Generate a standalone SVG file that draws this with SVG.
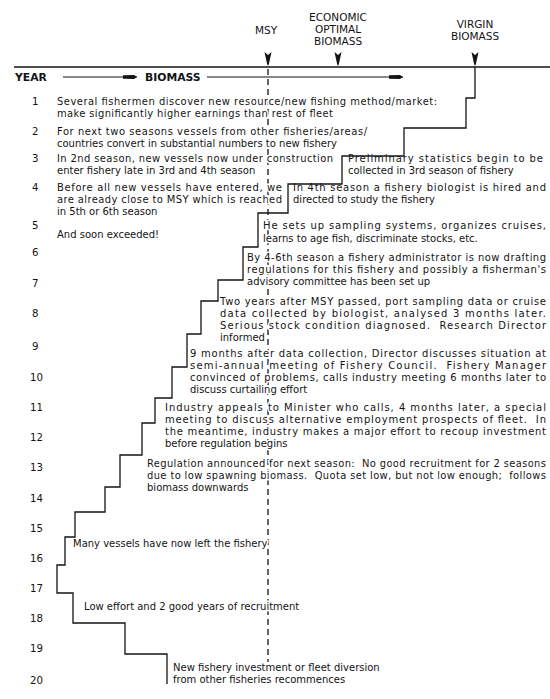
<svg xmlns="http://www.w3.org/2000/svg" width="550" height="699" viewBox="0 0 550 699">
<style>
text{font-family:"DejaVu Sans","Liberation Sans",sans-serif;font-size:10px;fill:#141414;stroke:#fff;stroke-width:3px;stroke-linejoin:round;paint-order:stroke;white-space:pre}
.hd{font-size:10.5px;text-anchor:middle}
.b{font-weight:bold;font-size:10.8px}
.yr{font-size:10.2px}
.ln{stroke:#141414;stroke-width:1.3;fill:none}
.dash{stroke:#141414;stroke-width:1.3;stroke-dasharray:6 4;fill:none}
.ah{fill:#141414}
</style>
<defs>
<marker id="arr" viewBox="0 0 14 6" refX="14" refY="3" markerWidth="14" markerHeight="6" markerUnits="userSpaceOnUse" orient="auto">
<path d="M0,1.2 L11,0.9 L14,3 L11,5.1 L0,4.8 Z" fill="#141414"/>
</marker>
<path id="dn" d="M-3.5,0 L0,3 L3.5,0 L0.9,12 L0,14 L-0.9,12 Z"/>
</defs>

<g id="connectors">
<line class="dash" x1="268" y1="69" x2="268" y2="662"/>
</g>

<g id="header">
<text class="hd" x="266" y="34">MSY</text>
<text class="hd" x="338" y="21">ECONOMIC</text>
<text class="hd" x="338" y="33">OPTIMAL</text>
<text class="hd" x="338" y="45">BIOMASS</text>
<text class="hd" x="475" y="28">VIRGIN</text>
<text class="hd" x="475" y="40">BIOMASS</text>
<use href="#dn" class="ah" x="268" y="52"/>
<use href="#dn" class="ah" x="338" y="52"/>
<use href="#dn" class="ah" x="475" y="52"/>
<line class="ln" x1="14" y1="67" x2="550" y2="67"/>
<text class="b" x="15" y="81">YEAR</text>
<line x1="63" y1="77" x2="137" y2="77" stroke="#141414" stroke-width="1" marker-end="url(#arr)"/>
<text class="b" x="145" y="81">BIOMASS</text>
<line x1="207" y1="77" x2="403" y2="77" stroke="#141414" stroke-width="1" marker-end="url(#arr)"/>
</g>

<g id="years">
<text class="yr" x="32" y="104.5">1</text>
<text class="yr" x="32" y="134.5">2</text>
<text class="yr" x="32" y="161.5">3</text>
<text class="yr" x="32" y="190.5">4</text>
<text class="yr" x="32" y="228.5">5</text>
<text class="yr" x="32" y="255.5">6</text>
<text class="yr" x="32" y="286.5">7</text>
<text class="yr" x="32" y="316.5">8</text>
<text class="yr" x="32" y="349.5">9</text>
<text class="yr" x="30" y="380.5">10</text>
<text class="yr" x="30" y="410.5">11</text>
<text class="yr" x="30" y="440.5">12</text>
<text class="yr" x="30" y="470.5">13</text>
<text class="yr" x="30" y="501.5">14</text>
<text class="yr" x="30" y="531.5">15</text>
<text class="yr" x="30" y="561.5">16</text>
<text class="yr" x="30" y="591.5">17</text>
<text class="yr" x="30" y="621.5">18</text>
<text class="yr" x="30" y="651.5">19</text>
<text class="yr" x="30" y="683.5">20</text>
</g>

<g id="n1">
<text x="57" y="104.5" textLength="380">Several fishermen discover new resource/new fishing method/market:</text>
<text x="57" y="116.5" textLength="276">make significantly higher earnings than rest of fleet</text>
</g>
<g id="n2">
<text x="57" y="134.5" textLength="310">For next two seasons vessels from other fisheries/areas/</text>
<text x="57" y="146.5">countries convert in substantial numbers to new fishery</text>
</g>
<g id="n3">
<text x="57" y="161.5" textLength="276">In 2nd season, new vessels now under construction</text>
<text x="57" y="173.5">enter fishery late in 3rd and 4th season</text>
</g>
<g id="n3b">
<text x="348" y="161.5" textLength="195">Preliminary statistics begin to be</text>
<text x="348" y="173.5">collected in 3rd season of fishery</text>
</g>
<g id="n4">
<text x="57" y="190.5" textLength="225">Before all new vessels have entered, we</text>
<text x="57" y="202.5" textLength="225">are already close to MSY which is reached</text>
<text x="57" y="214.5">in 5th or 6th season</text>
<text x="57" y="237.5">And soon exceeded!</text>
</g>
<g id="n4b">
<text x="293" y="190.5" textLength="253">In 4th season a fishery biologist is hired and</text>
<text x="293" y="202.5">directed to study the fishery</text>
</g>
<g id="n5">
<text x="263" y="228.5" textLength="283">He sets up sampling systems, organizes cruises,</text>
<text x="263" y="241.5">learns to age fish, discriminate stocks, etc.</text>
</g>
<g id="n6">
<text x="247" y="260.5" textLength="299">By 4-6th season a fishery administrator is now drafting</text>
<text x="247" y="272.5" textLength="299">regulations for this fishery and possibly a fisherman's</text>
<text x="247" y="284.5">advisory committee has been set up</text>
</g>
<g id="n8">
<text x="220" y="304.5" textLength="326">Two years after MSY passed, port sampling data or cruise</text>
<text x="220" y="316.5" textLength="326">data collected by biologist, analysed 3 months later.</text>
<text x="220" y="328.5" textLength="326">Serious stock condition diagnosed.  Research Director</text>
<text x="220" y="340.5">informed</text>
</g>
<g id="n9">
<text x="190" y="356.5" textLength="356">9 months after data collection, Director discusses situation at</text>
<text x="190" y="368.5" textLength="356">semi-annual meeting of Fishery Council.  Fishery Manager</text>
<text x="190" y="380.5" textLength="356">convinced of problems, calls industry meeting 6 months later to</text>
<text x="190" y="392.5">discuss curtailing effort</text>
</g>
<g id="n11">
<text x="165" y="410.5" textLength="381">Industry appeals to Minister who calls, 4 months later, a special</text>
<text x="165" y="422.5" textLength="381">meeting to discuss alternative employment prospects of fleet.  In</text>
<text x="165" y="434.5" textLength="381">the meantime, industry makes a major effort to recoup investment</text>
<text x="165" y="446.5">before regulation begins</text>
</g>
<g id="n13">
<text x="147" y="466.5" textLength="399">Regulation announced for next season:  No good recruitment for 2 seasons</text>
<text x="147" y="478.5" textLength="399">due to low spawning biomass.  Quota set low, but not low enough;  follows</text>
<text x="147" y="490.5">biomass downwards</text>
</g>
<g id="n16">
<text x="73" y="546.5">Many vessels have now left the fishery</text>
</g>
<g id="n18">
<text x="84" y="609.5">Low effort and 2 good years of recruitment</text>
</g>
<g id="n20">
<text x="173" y="670.5">New fishery investment or fleet diversion</text>
<text x="173" y="682.5">from other fisheries recommences</text>
</g>

<g id="stairs">
<polyline class="ln" points="475,67 475,98 466,98 466,128 404,128 404,156 342,156 342,184 288,184 288,213 258,213 258,247 243,247 243,280 218,280 218,301 201,301 201,334 187,334 187,367 172,367 172,398 155,398 155,423 142,423 142,455 120,455 120,487 105,487 105,512 75,512 75,537 65,537 65,565 57,565 57,593 73,593 73,623 125,623 125,654 167,654 167,684"/>
</g>
</svg>
